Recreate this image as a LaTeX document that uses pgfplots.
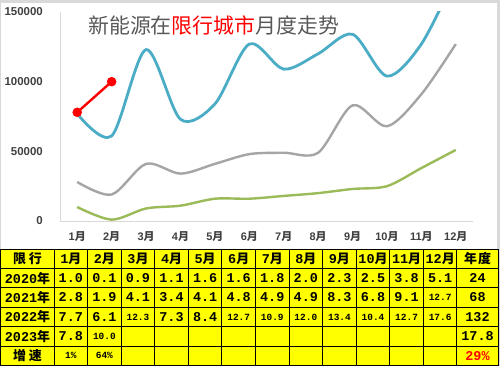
\documentclass[border=0pt]{standalone}
\usepackage{fontspec}
\setmainfont{Liberation Sans}
\newfontfamily\cjk{Noto Sans CJK SC}
\newfontfamily\mono{Liberation Mono}
\usepackage{pgfplots}
\pgfplotsset{compat=1.18}
\definecolor{cblue}{HTML}{4BACC6}
\definecolor{cgray}{HTML}{A5A5A5}
\definecolor{cgreen}{HTML}{9BBB59}
\definecolor{framegray}{HTML}{D9D9D9}
\definecolor{axisgray}{HTML}{D9D9D9}
\definecolor{titlegray}{HTML}{595959}
\definecolor{tickcol}{HTML}{404040}
\definecolor{tyellow}{HTML}{FFFF00}
\newcommand\N[1]{{\mono\bfseries\fontsize{13.5}{13.5}\selectfont #1}}
\newcommand\Sm[1]{{\mono\bfseries\fontsize{9.5}{9.5}\selectfont #1}}
\newcommand\C[1]{{\cjk\bfseries\fontsize{13}{13}\selectfont #1}}
\newcommand\M{{\cjk 月}}
\begin{document}
\begin{tikzpicture}[x=1bp,y=1bp]
\fill[framegray] (0,0) rectangle (500,366);
\fill[white] (1,117) rectangle (497,363);
\begin{axis}[at={(60bp,145bp)}, anchor=south west, scale only axis,
  width=413bp, height=209bp,
  xmin=0.5, xmax=12.5, ymin=0, ymax=150000,
  axis lines*=left, axis line style={draw=axisgray, line width=1bp, -},
  major tick length=0pt,
  scaled y ticks=false,
  ytick={0,50000,100000,150000},
  yticklabels={0,50000,100000,150000},
  xtick={1,...,12},
  xticklabels={1\M,2\M,3\M,4\M,5\M,6\M,7\M,8\M,9\M,10\M,11\M,12\M},
  yticklabel style={font=\bfseries\fontsize{11.5}{11.5}\selectfont, color=tickcol, anchor=east, inner sep=0pt, xshift=-17bp},
  xticklabel style={font=\bfseries\fontsize{11}{11}\selectfont, color=tickcol, anchor=center, inner sep=0pt, yshift=-16bp},
  clip=true]
\addplot[color=cgreen, line width=2.4bp, smooth, tension=0.5] coordinates {(1,10000) (2,1000) (3,9000) (4,11000) (5,16000) (6,16000) (7,18000) (8,20000) (9,23000) (10,25000) (11,38000) (12,51000)};
\addplot[color=cgray, line width=2.4bp, smooth, tension=0.5] coordinates {(1,28000) (2,19000) (3,41000) (4,34000) (5,41000) (6,48000) (7,49000) (8,49000) (9,83000) (10,68000) (11,91000) (12,127000)};
\addplot[color=cblue, line width=2.8bp, smooth, tension=0.5] coordinates {(1,77000) (2,61000) (3,123000) (4,73000) (5,84000) (6,127000) (7,109000) (8,120000) (9,134000) (10,104000) (11,127000) (12,176000)};
\addplot[color=red, line width=2.4bp, mark=*, mark size=3.5bp, mark options={fill=red, draw=red}] coordinates {(1,78000) (2,100000)};
\end{axis}
\node[anchor=west, inner sep=0pt, font=\cjk\fontsize{21}{21}\selectfont, text=titlegray] at (88,341) {新能源在\textcolor{red}{限行城市}月度走势};
% table
\fill[tyellow] (0.5,0.5) rectangle (498,117);
\foreach \i in {0,...,6} \draw[black, line width=1bp] (0.5,{117-\i*19.42}) -- (498,{117-\i*19.42});
\draw[black, line width=1bp] (0.5,0.5) -- (0.5,117);
\draw[black, line width=1bp] (498,0.5) -- (498,117);
\foreach \k in {0,...,12} \draw[black, line width=1bp] ({54+\k*33.58},0.5) -- ({54+\k*33.58},117);
% header row
\node at (27.5,107.3) {\C{限\hspace{3bp}行}};
\foreach \k in {1,...,12} \node[inner sep=0pt] at ({54+(\k-0.5)*33.58},107.3) {\N{\k}\C{月}};
\node at (477.5,107.3) {\C{年\hspace{1bp}度}};
% year rows
\node at (27.5,87.9) {\N{2020}\C{年}};
\node at (27.5,68.5) {\N{2021}\C{年}};
\node at (27.5,49.0) {\N{2022}\C{年}};
\node at (27.5,29.6) {\N{2023}\C{年}};
\node at (27.5,10.2) {\C{增\hspace{3bp}速}};
\foreach \v [count=\k] in {\N{1.0},\N{0.1},\N{0.9},\N{1.1},\N{1.6},\N{1.6},\N{1.8},\N{2.0},\N{2.3},\N{2.5},\N{3.8},\N{5.1}}
  \node[inner sep=0pt] at ({54+(\k-0.5)*33.58},87.9) {\v};
\foreach \v [count=\k] in {\N{2.8},\N{1.9},\N{4.1},\N{3.4},\N{4.1},\N{4.8},\N{4.9},\N{4.9},\N{8.3},\N{6.8},\N{9.1},\Sm{12.7}}
  \node[inner sep=0pt] at ({54+(\k-0.5)*33.58},68.5) {\v};
\foreach \v [count=\k] in {\N{7.7},\N{6.1},\Sm{12.3},\N{7.3},\N{8.4},\Sm{12.7},\Sm{10.9},\Sm{12.0},\Sm{13.4},\Sm{10.4},\Sm{12.7},\Sm{17.6}}
  \node[inner sep=0pt] at ({54+(\k-0.5)*33.58},49.0) {\v};
\foreach \v [count=\k] in {\N{7.8},\Sm{10.0}}
  \node[inner sep=0pt] at ({54+(\k-0.5)*33.58},29.6) {\v};
\foreach \v [count=\k] in {\Sm{1\%},\Sm{64\%}}
  \node[inner sep=0pt] at ({54+(\k-0.5)*33.58},10.2) {\v};
\node[inner sep=0pt] at (477.5,87.9) {\N{24}};
\node[inner sep=0pt] at (477.5,68.5) {\N{68}};
\node[inner sep=0pt] at (477.5,49.0) {\N{132}};
\node[inner sep=0pt] at (477.5,29.6) {\N{17.8}};
\node[inner sep=0pt] at (477.5,10.2) {\textcolor{red}{\N{29\%}}};
\end{tikzpicture}
\end{document}
